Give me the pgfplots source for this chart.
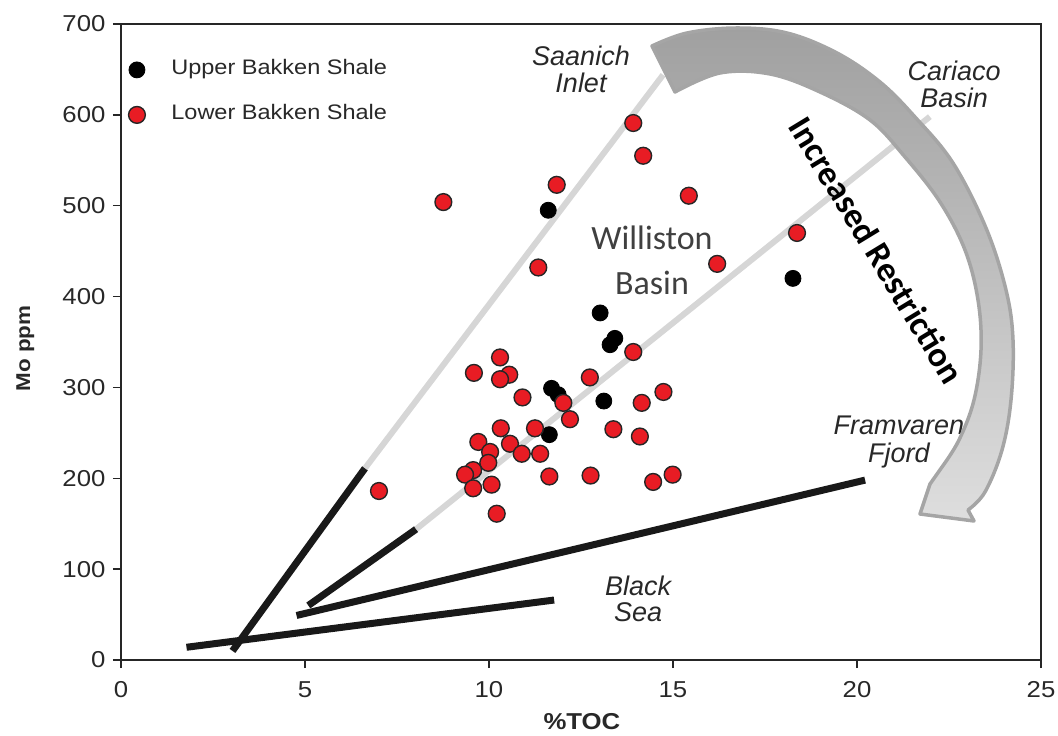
\documentclass[border=0pt]{standalone}
\usepackage{fontspec}
\setmainfont{Liberation Sans}
\newfontfamily\wide{Liberation Sans}[FakeStretch=1.12]
\newfontfamily\calib{Carlito}
\usepackage{pgfplots}
\usepackage{pgfplotstable}
\pgfplotsset{compat=1.18}
\definecolor{mred}{RGB}{232,28,36}
\definecolor{lgray}{RGB}{196,196,196}
\definecolor{arrtop}{RGB}{160,160,160}
\definecolor{arrbot}{RGB}{222,222,222}
\definecolor{arredge}{RGB}{165,165,165}
\definecolor{txt}{RGB}{40,40,40}

\pgfplotstableread{
x y
11.61 495
13.02 382
13.42 354
13.29 347
11.70 299
11.88 292
13.12 285
11.64 248
18.26 420
}\upperdata

\pgfplotstableread{
x y
7.01 186
8.76 504
11.84 523
13.92 591
14.19 555
15.43 511
18.37 470
16.20 436
11.34 432
13.92 339
10.30 333
9.59 316
10.55 314
10.30 309
10.91 289
12.74 311
12.02 283
14.74 295
14.15 283
12.20 265
13.38 254
14.10 246
10.32 255
11.25 255
9.71 240
10.57 238
10.03 229
10.89 227
11.39 227
9.98 217
9.57 209
9.35 204
9.57 189
10.07 193
11.64 202
12.76 203
14.46 196
14.99 204
10.21 161
}\lowerdata

\begin{document}
\begin{tikzpicture}
\begin{axis}[
  scale only axis, width=920pt, height=636pt,
  xmin=0, xmax=25, ymin=0, ymax=700,
  xtick={0,5,...,25}, ytick={0,100,...,700},
  xtick pos=left, ytick pos=left,
  tick align=outside, major tick length=8pt,
  tick style={line width=1.5pt, color=black!85},
  axis line style={line width=1.8pt, color=black!85},
  ticklabel style={font=\wide\fontsize{23}{26}\selectfont, text=txt},
  /pgf/number format/assume math mode=true,
  scaled ticks=false,
  yticklabel style={xshift=-4pt},
  xticklabel style={yshift=-10pt},
  xlabel={\%TOC}, ylabel={Mo ppm},
  xlabel style={at={(axis description cs:0.501,-0.0975)}, anchor=center, font=\wide\bfseries\fontsize{23}{26}\selectfont, text=txt},
  ylabel style={at={(axis description cs:-0.104,0.49)}, anchor=center, font=\wide\bfseries\fontsize{20}{24}\selectfont, text=txt},
  clip=false,
  legend style={at={(axis description cs:0.008,0.947)}, anchor=north west, draw=none, fill=none,
    font=\wide\fontsize{21}{24}\selectfont, text=txt, inner sep=0pt, row sep=21pt,
    nodes={inner sep=2pt, text height=15pt, text depth=5pt},
    /tikz/every odd column/.append style={column sep=24pt}},
  legend cell align=left,
  legend image code/.code={\draw[#1] plot coordinates {(9pt,0pt)};},
]
% black reference lines
\addplot[forget plot, line width=7pt, color=black!90] coordinates {(3.03,10) (6.63,211)};
\addplot[forget plot, line width=7pt, color=black!90] coordinates {(5.09,60) (8.02,144)};
\addplot[forget plot, line width=7pt, color=black!90] coordinates {(4.77,49) (20.22,198)};
\addplot[forget plot, line width=7pt, color=black!90] coordinates {(1.78,14) (11.77,66)};
% data
\addplot[only marks, mark=*, mark size=8pt, mark options={fill=black, draw=black, line width=0.8pt}] table {\upperdata};
\addlegendentry{Upper Bakken Shale}
\addplot[only marks, mark=*, mark size=8.4pt, mark options={fill=mred, draw=black!85, line width=1.4pt}] table {\lowerdata};
\addlegendentry{Lower Bakken Shale}
% grey continuation lines
\addplot[forget plot, line width=6pt, color=lgray, opacity=0.7] coordinates {(6.63,211) (14.73,644)};
\addplot[forget plot, line width=6pt, color=lgray, opacity=0.7] coordinates {(8.02,144) (21.98,598)};
% annotations
\node[font=\itshape\fontsize{27}{27}\selectfont, align=center, text=txt] at (axis cs:12.5,650) {Saanich\\Inlet};
\node[font=\itshape\fontsize{27}{27}\selectfont, align=center, text=txt] at (axis cs:22.64,634) {Cariaco\\Basin};
\node[font=\itshape\fontsize{27}{28}\selectfont, align=center, text=txt] at (axis cs:21.14,240) {Framvaren\\Fjord};
\node[font=\itshape\fontsize{27}{26}\selectfont, align=center, text=txt] at (axis cs:14.05,67) {Black\\Sea};
\node[font=\calib\fontsize{34}{45}\selectfont, align=center, text=black!75] at (axis cs:14.43,440) {Williston\\Basin};
\node[font=\calib\bfseries\fontsize{35}{38}\selectfont, text=black, rotate=-58.7] at (axis cs:20.54,451) {Increased Restriction};
\end{axis}
% curved arrow (pixel-like coordinates of the figure)
\begin{scope}[x=1pt, y=-1pt, shift={(-121pt,660pt)}]
\shadedraw[top color=arrtop, bottom color=arrbot, draw=arredge, line width=3.5pt, line join=round]
  plot[smooth, tension=0.6] coordinates {(652,46) (687,33) (737,28) (787,33) (837,53) (880,82) (915,117) (953,163) (986,228) (1006,290) (1013,340) (1011,400) (1002,450) (985,492) (968,510)}
  -- (974,521) -- (920,514) -- (930,484) --
  plot[smooth, tension=0.6] coordinates {(942,467) (959,440) (974,400) (981,350) (978,300) (965,250) (940,202) (905,157) (870,120) (820,92) (770,74) (720,73) (675,92)}
  -- cycle;
\end{scope}
\pgfresetboundingbox
\path[use as bounding box] (-121pt,-76pt) rectangle (937pt,660pt);
\end{tikzpicture}
\end{document}
